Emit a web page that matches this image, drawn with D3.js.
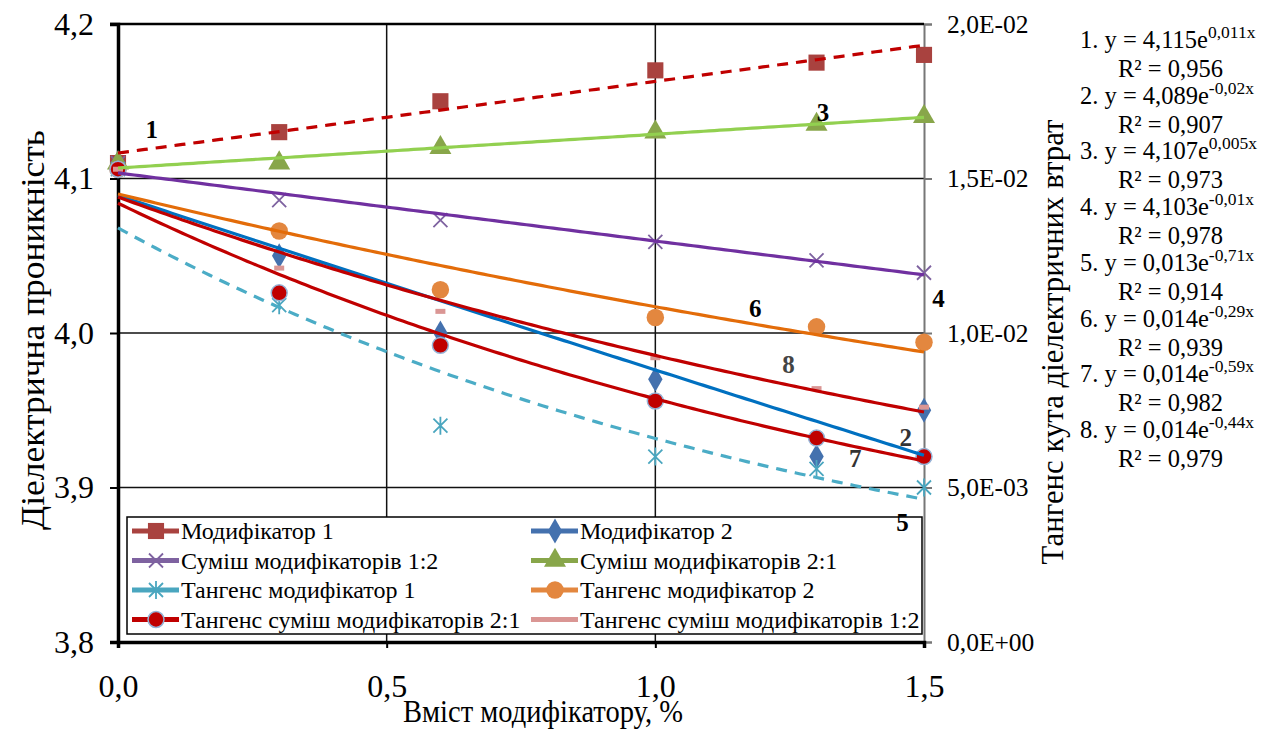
<!DOCTYPE html>
<html>
<head>
<meta charset="utf-8">
<script src="https://cdn.jsdelivr.net/npm/d3@7"></script>
<style>
  body { margin: 0; background: #fff; }
</style>
</head>
<body>
<div id="chart"></div>
<script>
// --- data ---
const xValues = [0, 0.3, 0.6, 1.0, 1.3, 1.5];

// left axis (діелектрична проникність)
const mod1  = [4.11, 4.13, 4.15, 4.17, 4.175, 4.18];
const mod2  = [4.11, 4.05, 4.00, 3.97, 3.92, 3.95];
const mix12 = [4.11, 4.086, 4.073, 4.059, 4.047, 4.039];
const mix21 = [4.11, 4.11, 4.12, 4.13, 4.135, 4.14];

// right axis (тангенс кута діелектричних втрат)
const tan1  = [0.0153, 0.0109, 0.0070, 0.0060, 0.0056, 0.0050];
const tan2  = [0.0153, 0.0133, 0.0114, 0.0105, 0.0102, 0.0097];
const tan21 = [0.0153, 0.0113, 0.0096, 0.0078, 0.0066, 0.0060];
const tan12 = [0.0153, 0.0121, 0.0107, 0.0092, 0.0082, 0.0076];

const seriesNames = [
  "Модифікатор 1", "Модифікатор 2",
  "Суміш модифікаторів 1:2", "Суміш модифікаторів 2:1",
  "Тангенс модифікатор 1", "Тангенс модифікатор 2",
  "Тангенс суміш модифікаторів 2:1", "Тангенс суміш модифікаторів 1:2"
];

// exponential trend lines y = a*e^(b*x), numbered 1..8 as on the chart
const trendA = [4.1165, 4.089, 4.1068, 4.1036, 0.0134, 0.0145, 0.0142, 0.0144];
const trendB = [0.0112, -0.028, 0.0053, -0.0108, -0.71, -0.29, -0.59, -0.44];

// equations printed on the right
const eqA   = ["4,115", "4,089", "4,107", "4,103", "0,013", "0,014", "0,014", "0,014"];
const eqExp = ["0,011x", "-0,02x", "0,005x", "-0,01x", "-0,71x", "-0,29x", "-0,59x", "-0,44x"];
const eqR2  = ["0,956", "0,907", "0,973", "0,978", "0,914", "0,939", "0,982", "0,979"];

const leftTicks = [3.8, 3.9, 4.0, 4.1, 4.2];
const rightTicks = [0, 0.005, 0.01, 0.015, 0.02];
const xTicks = [0, 0.5, 1.0, 1.5];

// --- chart ---
const FONT = "Liberation Serif";
const width = 1268, height = 729;
const plot = {left: 118, right: 924, top: 24, bottom: 642};

const svg = d3.select("#chart").append("svg")
    .attr("width", width)
    .attr("height", height)
    .attr("font-family", FONT)
    .style("background", "#fff");

const x = d3.scaleLinear().domain([0, 1.5]).range([plot.left, plot.right]);
const yL = d3.scaleLinear().domain([3.8, 4.2]).range([plot.bottom, plot.top]);
const yR = d3.scaleLinear().domain([0, 0.02]).range([plot.bottom, plot.top]);

const comma = d => d3.format(".1f")(d).replace(".", ",");
const sci = d => {
  if (d === 0) return "0,0E+00";
  const [m, e] = d.toExponential(1).split("e");
  const n = +e;
  return m.replace(".", ",") + "E" + (n < 0 ? "-" : "+") + String(Math.abs(n)).padStart(2, "0");
};

// grid
const grid = svg.append("g").attr("class", "grid");
grid.selectAll("line.h")
    .data([3.9, 4.0, 4.1])
    .join("line")
    .attr("x1", plot.left).attr("x2", plot.right)
    .attr("y1", d => yL(d)).attr("y2", d => yL(d))
    .attr("stroke", "#111").attr("stroke-width", 1.5);
grid.selectAll("line.v")
    .data([0.5, 1.0])
    .join("line")
    .attr("x1", d => x(d)).attr("x2", d => x(d))
    .attr("y1", plot.top).attr("y2", plot.bottom)
    .attr("stroke", "#111").attr("stroke-width", 1.5);

// left axis
const axL = svg.append("g")
    .attr("transform", `translate(${plot.left},0)`)
    .call(d3.axisLeft(yL).tickValues(leftTicks).tickFormat(comma).tickSize(8).tickPadding(16));
axL.attr("font-family", FONT);
axL.select(".domain").attr("stroke", "#000").attr("stroke-width", 3.5);
axL.selectAll(".tick line").attr("stroke", "#000").attr("stroke-width", 2);
axL.selectAll("text").attr("font-size", 32).attr("font-family", FONT).attr("fill", "#000");

// right axis
const axR = svg.append("g")
    .attr("transform", `translate(${plot.right},0)`)
    .call(d3.axisRight(yR).tickValues(rightTicks).tickFormat(sci).tickSize(8).tickPadding(15));
axR.attr("font-family", FONT);
axR.select(".domain").attr("stroke", "#777").attr("stroke-width", 2);
axR.selectAll(".tick line").attr("stroke", "#777").attr("stroke-width", 2);
axR.selectAll("text").attr("font-size", 25.5).attr("font-family", FONT).attr("fill", "#000");

// top border
svg.append("line")
    .attr("x1", plot.left - 8).attr("x2", plot.right)
    .attr("y1", plot.top).attr("y2", plot.top)
    .attr("stroke", "#000").attr("stroke-width", 2.5);

// bottom axis
const axB = svg.append("g")
    .attr("transform", `translate(0,${plot.bottom})`)
    .call(d3.axisBottom(x).tickValues(xTicks).tickFormat(comma).tickSize(6).tickPadding(26));
axB.attr("font-family", FONT);
axB.select(".domain").attr("stroke", "#000").attr("stroke-width", 3.5);
axB.selectAll(".tick line").attr("stroke", "#000").attr("stroke-width", 2);
axB.selectAll("text").attr("font-size", 32).attr("font-family", FONT).attr("fill", "#000");

// axis titles (slightly condensed, as in the source figure)
svg.append("text")
    .attr("transform", `translate(44,330) rotate(-90)`)
    .attr("text-anchor", "middle")
    .attr("font-size", 33)
    .attr("textLength", 400).attr("lengthAdjust", "spacingAndGlyphs")
    .text("Діелектрична проникність");
svg.append("text")
    .attr("transform", `translate(1063,342) rotate(-90)`)
    .attr("text-anchor", "middle")
    .attr("font-size", 31)
    .attr("textLength", 445).attr("lengthAdjust", "spacingAndGlyphs")
    .text("Тангенс кута діелектричних втрат");
svg.append("text")
    .attr("x", 543).attr("y", 722)
    .attr("text-anchor", "middle")
    .attr("font-size", 31)
    .attr("textLength", 280).attr("lengthAdjust", "spacingAndGlyphs")
    .text("Вміст модифікатору, %");

// series styling
const colors = ["#A9423F", "#4471AE", "#7E62A0", "#88A64A", "#4AA6BF", "#E3873F", "#C00000", "#DA9694"];
const trendColors = ["#C00000", "#0070C0", "#92D050", "#7030A0", "#4BACC6", "#E36C09", "#C00000", "#C00000"];
const trendDash = [true, false, false, false, true, false, false, false];
const trendAxis = [yL, yL, yL, yL, yR, yR, yR, yR];

const allSeries = [mod1, mod2, mix12, mix21, tan1, tan2, tan21, tan12];
const seriesAxis = [yL, yL, yL, yL, yR, yR, yR, yR];

const markerPath = i => {
  switch (i) {
    case 0: return d3.symbol(d3.symbolSquare, 260)();
    case 1: return d3.symbol(d3.symbolDiamond, 180)();
    case 2: return "M-7,-7L7,7M-7,7L7,-7";
    case 3: return d3.symbol(d3.symbolTriangle, 210)();
    case 4: return "M-7,-7L7,7M-7,7L7,-7M0,-9L0,9";
    case 5: return d3.symbol(d3.symbolCircle, 240)();
    case 6: return d3.symbol(d3.symbolCircle, 200)();
    case 7: return "M-5,-2.5H5V2.5H-5Z";
  }
};
const drawMarker = (sel, i) => {
  sel.attr("d", markerPath(i));
  if (i === 2 || i === 4) {
    sel.attr("fill", "none").attr("stroke", colors[i]).attr("stroke-width", 1.8);
  } else if (i === 6) {
    sel.attr("fill", colors[i]).attr("stroke", "#95B3D7").attr("stroke-width", 1.5);
  } else {
    sel.attr("fill", colors[i]);
  }
};

// markers
allSeries.forEach((vals, i) => {
  svg.append("g")
      .selectAll("path")
      .data(vals.map((v, j) => [xValues[j], v]))
      .join("path")
      .attr("transform", d => `translate(${x(d[0])},${seriesAxis[i](d[1])})`)
      .call(sel => drawMarker(sel, i));
});

// trend lines
const xs = d3.range(0, 1.5001, 0.01);
trendA.forEach((a, i) => {
  const yScale = trendAxis[i];
  const line = d3.line()
      .x(d => x(d))
      .y(d => yScale(a * Math.exp(trendB[i] * d)));
  svg.append("path")
      .attr("d", line(xs))
      .attr("fill", "none")
      .attr("stroke", trendColors[i])
      .attr("stroke-width", 3.2)
      .attr("stroke-dasharray", trendDash[i] ? "11,8" : null);
});

// legend
const lg = svg.append("g").attr("transform", "translate(127,517)");
lg.append("rect")
    .attr("width", 795).attr("height", 117)
    .attr("fill", "#fff")
    .attr("stroke", "#000").attr("stroke-width", 1.5);
const legendItems = lg.selectAll("g.item")
    .data(seriesNames)
    .join("g")
    .attr("transform", (d, i) => `translate(${(i % 2) * 399 + 4},${Math.floor(i / 2) * 29.5 + 14})`);
legendItems.append("line")
    .attr("x1", 1).attr("x2", 48)
    .attr("stroke", (d, i) => colors[i])
    .attr("stroke-width", 5);
legendItems.filter((d, i) => i < 7).append("path")
    .attr("transform", "translate(25,0)")
    .each(function(d, i) { drawMarker(d3.select(this), i); });
legendItems.append("text")
    .attr("x", 50).attr("y", 8)
    .attr("font-size", 24)
    .text(d => d);

// trend line numbers (drawn above the legend, as "5" sits on its border)
const numLabels = [
  {t: "1", x: 0.063, v: 4.126, ax: yL},
  {t: "2", x: 1.466, v: 0.00634, ax: yR, c: "#333"},
  {t: "3", x: 1.312, v: 4.137, ax: yL},
  {t: "4", x: 1.527, v: 4.017, ax: yL},
  {t: "5", x: 1.46, v: 0.00359, ax: yR},
  {t: "6", x: 1.186, v: 0.01052, ax: yR},
  {t: "7", x: 1.372, v: 0.00566, ax: yR, c: "#333"},
  {t: "8", x: 1.248, v: 0.00871, ax: yR, c: "#444"}
];
svg.append("g")
    .selectAll("text")
    .data(numLabels)
    .join("text")
    .attr("x", d => x(d.x))
    .attr("y", d => d.ax(d.v))
    .attr("text-anchor", "middle")
    .attr("font-size", 25)
    .attr("font-weight", "bold")
    .attr("fill", d => d.c || "#000")
    .text(d => d.t);

// equations
const eq = svg.append("g").attr("font-size", 24.5);
eqA.forEach((a, i) => {
  const y0 = 48 + i * 55.7;
  const t = eq.append("text").attr("x", 1080).attr("y", y0);
  t.append("tspan").text(`${i + 1}. y = ${a}e`);
  t.append("tspan").attr("dy", -10).attr("font-size", 17.5).text(eqExp[i]);
  eq.append("text")
      .attr("x", 1118).attr("y", y0 + 29)
      .text(`R² = ${eqR2[i]}`);
});
</script>
</body>
</html>
